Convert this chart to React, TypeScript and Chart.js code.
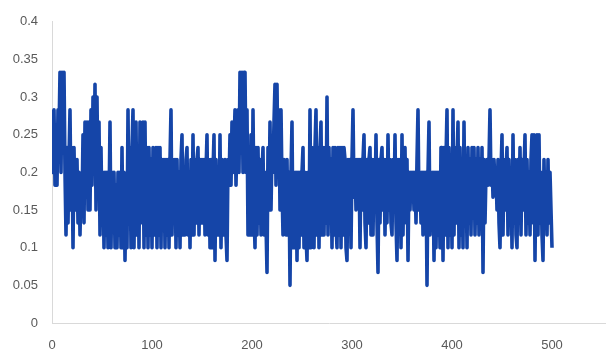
import React, { useEffect, useRef } from "react";
import { Chart, registerables } from "chart.js";

Chart.register(...registerables);

const xTickLabels = [0, 100, 200, 300, 400, 500];
const yTickLabels = [0, 0.05, 0.1, 0.15, 0.2, 0.25, 0.3, 0.35, 0.4];

const values: number[] = [
  // 0-49
  0.283, 0.2, 0.283, 0.183, 0.217, 0.183, 0.283, 0.25, 0.333, 0.2,
  0.333, 0.267, 0.333, 0.2, 0.117, 0.233, 0.133, 0.217, 0.283, 0.15,
  0.233, 0.1, 0.233, 0.15, 0.2, 0.217, 0.133, 0.2, 0.117, 0.183,
  0.15, 0.25, 0.133, 0.267, 0.167, 0.267, 0.15, 0.267, 0.15, 0.283,
  0.183, 0.3, 0.2, 0.317, 0.15, 0.3, 0.167, 0.267, 0.117, 0.233,
  // 50-99
  0.133, 0.2, 0.1, 0.2, 0.117, 0.2, 0.1, 0.15, 0.267, 0.1,
  0.2, 0.133, 0.2, 0.1, 0.183, 0.1, 0.2, 0.117, 0.2, 0.1,
  0.233, 0.1, 0.2, 0.083, 0.183, 0.1, 0.283, 0.133, 0.233, 0.1,
  0.233, 0.283, 0.1, 0.233, 0.267, 0.117, 0.233, 0.1, 0.267, 0.133,
  0.233, 0.267, 0.1, 0.267, 0.117, 0.233, 0.1, 0.233, 0.117, 0.217,
  // 100-149
  0.1, 0.233, 0.117, 0.167, 0.233, 0.1, 0.233, 0.117, 0.233, 0.1,
  0.217, 0.133, 0.217, 0.1, 0.217, 0.117, 0.217, 0.1, 0.217, 0.283,
  0.117, 0.217, 0.183, 0.217, 0.1, 0.217, 0.117, 0.2, 0.1, 0.217,
  0.25, 0.117, 0.2, 0.117, 0.217, 0.233, 0.117, 0.2, 0.1, 0.217,
  0.117, 0.25, 0.117, 0.217, 0.133, 0.217, 0.233, 0.117, 0.217, 0.133,
  // 150-199
  0.217, 0.133, 0.217, 0.117, 0.2, 0.25, 0.117, 0.217, 0.1, 0.217,
  0.1, 0.2, 0.25, 0.083, 0.217, 0.117, 0.2, 0.117, 0.25, 0.1,
  0.217, 0.117, 0.2, 0.217, 0.117, 0.083, 0.217, 0.183, 0.25, 0.183,
  0.267, 0.2, 0.233, 0.283, 0.183, 0.25, 0.283, 0.2, 0.333, 0.25,
  0.333, 0.2, 0.333, 0.333, 0.2, 0.283, 0.117, 0.233, 0.117, 0.25,
  // 200-249
  0.117, 0.283, 0.15, 0.1, 0.233, 0.117, 0.233, 0.133, 0.217, 0.117,
  0.2, 0.233, 0.117, 0.2, 0.133, 0.067, 0.233, 0.15, 0.267, 0.15,
  0.233, 0.2, 0.267, 0.317, 0.183, 0.317, 0.2, 0.283, 0.15, 0.283,
  0.183, 0.117, 0.217, 0.2, 0.117, 0.217, 0.117, 0.2, 0.05, 0.2,
  0.267, 0.1, 0.2, 0.1, 0.2, 0.083, 0.2, 0.1, 0.2, 0.117,
  // 250-299
  0.2, 0.233, 0.1, 0.2, 0.117, 0.083, 0.2, 0.1, 0.283, 0.1,
  0.233, 0.2, 0.1, 0.233, 0.283, 0.117, 0.233, 0.1, 0.233, 0.267,
  0.117, 0.233, 0.117, 0.233, 0.133, 0.3, 0.117, 0.233, 0.133, 0.217,
  0.1, 0.233, 0.117, 0.233, 0.133, 0.1, 0.233, 0.117, 0.233, 0.1,
  0.233, 0.117, 0.233, 0.217, 0.1, 0.083, 0.217, 0.133, 0.217, 0.1,
  // 300-349
  0.217, 0.283, 0.167, 0.217, 0.15, 0.217, 0.167, 0.217, 0.1, 0.217,
  0.15, 0.217, 0.25, 0.133, 0.1, 0.217, 0.133, 0.217, 0.233, 0.117,
  0.217, 0.117, 0.217, 0.15, 0.25, 0.133, 0.067, 0.217, 0.133, 0.217,
  0.233, 0.15, 0.217, 0.117, 0.217, 0.133, 0.25, 0.15, 0.217, 0.133,
  0.117, 0.217, 0.15, 0.25, 0.133, 0.083, 0.217, 0.133, 0.217, 0.1,
  // 350-399
  0.25, 0.117, 0.217, 0.233, 0.133, 0.217, 0.083, 0.2, 0.15, 0.2,
  0.167, 0.2, 0.15, 0.2, 0.133, 0.217, 0.283, 0.15, 0.2, 0.133,
  0.2, 0.117, 0.2, 0.133, 0.2, 0.05, 0.2, 0.267, 0.117, 0.2,
  0.133, 0.2, 0.083, 0.2, 0.1, 0.2, 0.117, 0.2, 0.1, 0.233,
  0.233, 0.083, 0.233, 0.117, 0.217, 0.283, 0.1, 0.233, 0.117, 0.217,
  // 400-449
  0.1, 0.283, 0.117, 0.233, 0.133, 0.217, 0.267, 0.1, 0.233, 0.117,
  0.217, 0.1, 0.267, 0.133, 0.217, 0.1, 0.233, 0.133, 0.217, 0.117,
  0.233, 0.15, 0.233, 0.117, 0.217, 0.133, 0.233, 0.117, 0.217, 0.133,
  0.233, 0.067, 0.217, 0.133, 0.2, 0.217, 0.183, 0.217, 0.283, 0.183,
  0.217, 0.167, 0.217, 0.183, 0.2, 0.15, 0.217, 0.133, 0.1, 0.2,
  // 450-500
  0.25, 0.117, 0.217, 0.15, 0.2, 0.233, 0.117, 0.217, 0.133, 0.2,
  0.1, 0.25, 0.133, 0.217, 0.117, 0.1, 0.217, 0.133, 0.233, 0.117,
  0.217, 0.15, 0.2, 0.25, 0.117, 0.217, 0.133, 0.2, 0.117, 0.217,
  0.25, 0.133, 0.25, 0.083, 0.217, 0.25, 0.117, 0.25, 0.133, 0.2,
  0.117, 0.083, 0.217, 0.133, 0.2, 0.117, 0.217, 0.133, 0.2, 0.15,
  0.1,
];

const xMax = 554;

export default function App() {
  const canvasRef = useRef<HTMLCanvasElement | null>(null);

  useEffect(() => {
    const canvas = canvasRef.current;
    if (!canvas) return;
    const points = values.map((v, i) => ({ x: i, y: v }));
    const font = { family: "'Liberation Sans', Arial, sans-serif", size: 13 };
    const chart = new Chart(canvas, {
      type: "line",
      data: {
        datasets: [
          {
            data: points,
            borderColor: "#1545a8",
            borderWidth: 3.6,
            pointRadius: 0,
            tension: 0,
            borderJoinStyle: "round",
            fill: false,
          },
        ],
      },
      options: {
        animation: false,
        responsive: false,
        devicePixelRatio: 1,
        layout: { padding: { top: 19, right: 0, left: 0, bottom: 0 } },
        plugins: { legend: { display: false }, tooltip: { enabled: false } },
        scales: {
          x: {
            type: "linear",
            min: 0,
            max: xMax,
            grid: { display: false, drawTicks: false },
            border: { display: true, color: "#d9d9d9", width: 1 },
            ticks: {
              color: "#595959",
              font,
              padding: 15,
              maxRotation: 0,
              callback: (v: any) => String(v),
            },
            afterBuildTicks: (scale: any) => {
              scale.ticks = xTickLabels.map((v) => ({ value: v }));
            },
            afterFit: (scale: any) => {
              scale.height = 30;
            },
          },
          y: {
            type: "linear",
            min: 0,
            max: 0.4,
            grid: { display: false, drawTicks: false },
            border: { display: true, color: "#d9d9d9", width: 1 },
            ticks: {
              color: "#595959",
              font,
              padding: 14,
              callback: (v: any) => String(Math.round(Number(v) * 100) / 100),
            },
            afterBuildTicks: (scale: any) => {
              scale.ticks = yTickLabels.map((v) => ({ value: v }));
            },
            afterFit: (scale: any) => {
              scale.width = 52;
            },
          },
        },
      },
    });
    return () => chart.destroy();
  }, []);

  return (
    <div style={{ position: "fixed", left: 0, top: 0, width: 606, height: 353, background: "#fff" }}>
      <canvas ref={canvasRef} width={606} height={353} style={{ width: 606, height: 353 }} />
    </div>
  );
}
